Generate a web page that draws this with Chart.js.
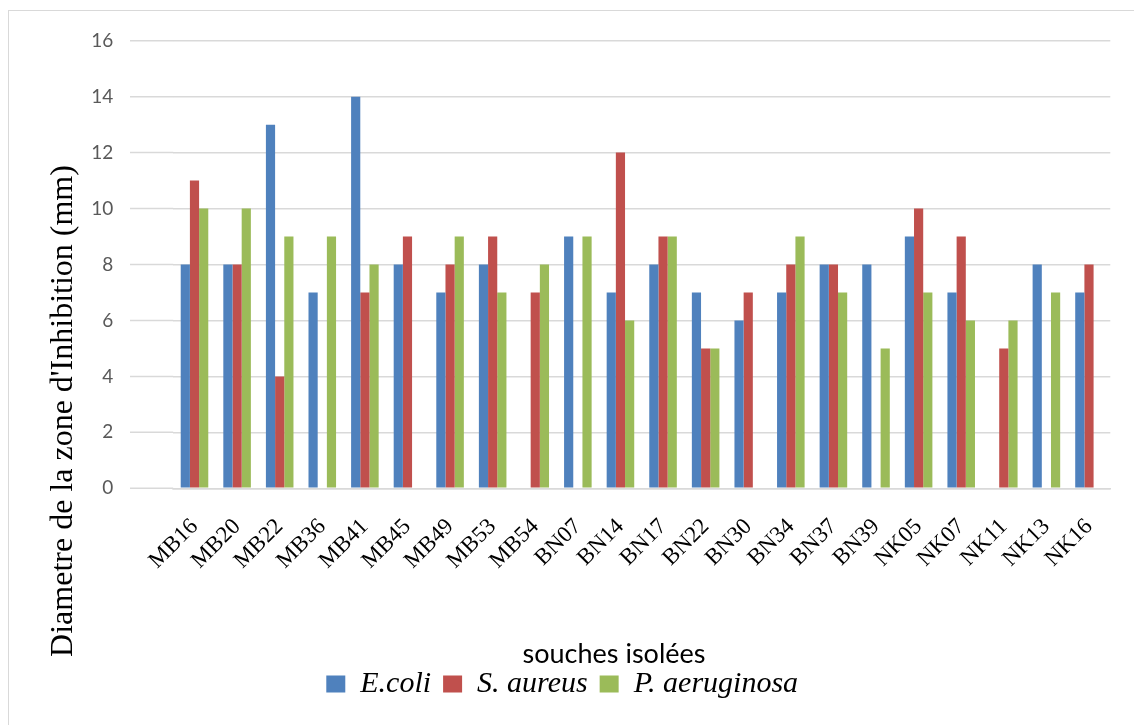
<!DOCTYPE html>
<html>
<head>
<meta charset="utf-8">
<script src="https://cdn.jsdelivr.net/npm/chart.js@4/dist/chart.umd.min.js"></script>
<style>
  html, body { margin: 0; padding: 0; background: #fff; }
  body { width: 1134px; height: 725px; overflow: hidden; position: relative; }
  #frame { position: absolute; left: 8px; top: 10px; width: 1140px; height: 730px;
           border-top: 1.5px solid #d9d9d9; border-left: 1.5px solid #d9d9d9; }
  #wrap { position: absolute; left: 0; top: 0; width: 1134px; height: 725px; }
</style>
</head>
<body>
<div id="frame"></div>
<div id="wrap"><canvas id="chart" width="1134" height="725"></canvas></div>
<script>
// Isolated strains and inhibition zone diameters (mm) against each test bacterium.
// null = no inhibition zone recorded.
const strains = ['MB16','MB20','MB22','MB36','MB41','MB45','MB49','MB53','MB54','BN07','BN14',
                 'BN17','BN22','BN30','BN34','BN37','BN39','NK05','NK07','NK11','NK13','NK16'];
const ecoli       = [8, 8, 13, 7, 14, 8, 7, 8, null, 9, 7, 8, 7, 6, 7, 8, 8, 9, 7, null, 8, 7];
const saureus     = [11, 8, 4, null, 7, 9, 8, 9, 7, null, 12, 9, 5, 7, 8, 8, null, 10, 9, 5, null, 8];
const paeruginosa = [10, 10, 9, 9, 8, null, 9, 7, 8, 9, 6, 9, 5, null, 9, 7, 5, 7, 6, 6, 7, null];
const seriesNames = ['E.coli', 'S. aureus', 'P. aeruginosa'];
const seriesColors = ['#4f81bd', '#c0504d', '#9bbb59'];
const yMin = 0, yMax = 16, yStep = 2;
const yAxisTitle = "Diametre de la zone d'Inhibition (mm)";
const xAxisTitle = 'souches isolées';

const GRID = '#d9d9d9';
const GRID_START_X = 130;
const PAD_LEFT = 12;

// Horizontal gridlines continue to the left of the first category,
// and the two axis captions are placed independently of the plot box.
const decorations = {
  id: 'decorations',
  beforeDatasetsDraw(chart) {
    const { ctx, chartArea, scales: { y } } = chart;
    ctx.save();
    ctx.strokeStyle = GRID;
    ctx.lineWidth = 1.5;
    for (let v = yMin; v <= yMax; v += yStep) {
      const py = y.getPixelForValue(v);
      ctx.beginPath();
      ctx.moveTo(GRID_START_X, py);
      ctx.lineTo(chartArea.left, py);
      ctx.stroke();
    }
    ctx.restore();
  },
  afterDraw(chart) {
    const { ctx } = chart;
    ctx.save();
    ctx.fillStyle = '#000';
    ctx.font = '32px "Liberation Serif"';
    ctx.textAlign = 'center';
    ctx.textBaseline = 'alphabetic';
    ctx.translate(72, 411);
    ctx.rotate(-Math.PI / 2);
    ctx.fillText(yAxisTitle, 0, 0);
    ctx.restore();

    ctx.save();
    ctx.fillStyle = '#000';
    ctx.font = '27px Lato';
    ctx.textAlign = 'center';
    ctx.textBaseline = 'alphabetic';
    ctx.fillText(xAxisTitle, 614, 663);
    ctx.restore();
  }
};

const values = [ecoli, saureus, paeruginosa];
new Chart(document.getElementById('chart'), {
  type: 'bar',
  data: {
    labels: strains,
    datasets: seriesNames.map((name, i) => ({
      label: name,
      data: values[i],
      backgroundColor: seriesColors[i],
      borderWidth: 0,
      categoryPercentage: 0.647,
      barPercentage: 1
    }))
  },
  options: {
    responsive: false,
    animation: false,
    devicePixelRatio: 1,
    layout: { padding: { left: PAD_LEFT, right: 21.6, top: 40.7, bottom: 16 } },
    plugins: {
      tooltip: { enabled: false },
      legend: {
        position: 'bottom',
        labels: {
          boxWidth: 19,
          boxHeight: 17,
          padding: 12,
          color: '#000',
          font: { family: '"Liberation Serif"', style: 'italic', size: 30 }
        }
      }
    },
    scales: {
      x: {
        grid: { display: false, drawTicks: false },
        border: { display: true, color: GRID, width: 1.5 },
        ticks: {
          autoSkip: false, minRotation: 45, maxRotation: 45, padding: 25,
          color: '#000', font: { family: '"Liberation Serif"', size: 23 }
        },
        afterFit(scale) { scale.height = 168.7; }
      },
      y: {
        min: yMin, max: yMax,
        ticks: { stepSize: yStep, padding: 60, color: '#595959', font: { family: 'Lato', size: 19 } },
        grid: { color: GRID, lineWidth: 1.5, drawTicks: false },
        border: { display: false },
        afterFit(scale) {
          scale.width = 173.2 - PAD_LEFT;
          // the wide label gap should not push the plot top/bottom inward
          scale.paddingTop = 12;
          scale.paddingBottom = 12;
        }
      }
    }
  },
  plugins: [decorations]
});
</script>
</body>
</html>
